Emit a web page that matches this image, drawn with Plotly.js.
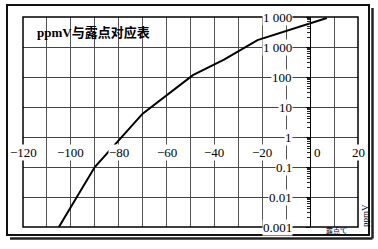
<!DOCTYPE html>
<html>
<head>
<meta charset="utf-8">
<script src="https://cdn.plot.ly/plotly-3.0.1.min.js"></script>
<style>html,body{margin:0;padding:0;background:#fff;}#chart{width:378px;height:249px;}</style>
</head>
<body>
<div id="chart"></div>
<script>
// Data
const dewPoint = [-105, -90, -70, -49, -36, -22, 7];
const ppmV = [0.001, 0.1, 6, 115, 380, 1700, 9300];

const xTickVals = [-120, -100, -80, -60, -40, -20, 0, 20];
const xTickText = ['\u2212120', '\u2212100', '\u221280', '\u221260', '\u221240', '\u221220', '0', '20'];
const yTickVals = [0.001, 0.01, 0.1, 1, 10, 100, 1000, 10000];
const yTickText = ['0.001', '0.01', '0.1', '1', '10', '100', '1 000', '1 000'];

const titleText = 'ppmV与露点对应表';
const xUnitText = '露点℃';
const yUnitText = 'ppmV';

// layout geometry (pixels)
const W = 378, H = 249;
const M = {l: 23, r: 20, t: 17, b: 22};
const L = M.l, R = W - M.r, T = M.t, B = H - M.b;
const px = x => (x - L) / (R - L);
const py = y => (B - y) / (B - T);

const serif = 'Liberation Serif, "Noto Sans CJK SC", serif';

const annotations = [];
xTickVals.forEach((v, i) => {
  annotations.push({
    x: v, y: -0.5, xref: 'x', yref: 'y', text: xTickText[i], showarrow: false,
    xanchor: 'center', yanchor: 'middle', xshift: v === 0 ? 7 : 0,
    font: {family: serif, size: 13, color: '#000'}, bgcolor: '#fff', borderpad: 0
  });
});
yTickVals.forEach((v, i) => {
  annotations.push({
    x: -7, y: Math.log10(v), xref: 'x', yref: 'y', text: yTickText[i], showarrow: false,
    xanchor: 'right', yanchor: 'middle',
    font: {family: serif, size: 13, color: '#000'}, bgcolor: '#fff', borderpad: 0
  });
});
annotations.push({
  x: px(35), y: py(33), xref: 'paper', yref: 'paper', text: '<b>' + titleText + '</b>', showarrow: false,
  xanchor: 'left', yanchor: 'middle', font: {family: serif, size: 13, color: '#000'}
});
annotations.push({
  x: px(336), y: py(231.5), xref: 'paper', yref: 'paper', text: xUnitText, showarrow: false,
  xanchor: 'center', yanchor: 'middle', font: {family: serif, size: 7, color: '#000'}
});
annotations.push({
  x: px(365), y: py(216), xref: 'paper', yref: 'paper', text: yUnitText, showarrow: false,
  textangle: -90, xanchor: 'center', yanchor: 'middle', font: {family: serif, size: 9, color: '#000'}
});

const shapes = [
  {type: 'rect', xref: 'paper', yref: 'paper', x0: px(7), x1: px(369), y0: py(5), y1: py(235),
   line: {color: '#111', width: 2}},
  {type: 'line', xref: 'paper', yref: 'paper', x0: px(372.5), x1: px(372.5), y0: py(8), y1: py(238.5),
   line: {color: '#222', width: 2.5}},
  {type: 'line', xref: 'paper', yref: 'paper', x0: px(10), x1: px(372.5), y0: py(238.5), y1: py(238.5),
   line: {color: '#222', width: 2.5}},
  {type: 'rect', xref: 'paper', yref: 'paper', x0: 0, x1: 1, y0: 0, y1: 1,
   line: {color: '#000', width: 1.5}}
];

const trace = {
  x: dewPoint, y: ppmV, type: 'scatter', mode: 'lines',
  line: {color: '#000', width: 2}, hoverinfo: 'none', cliponaxis: true
};

const layout = {
  width: W, height: H,
  margin: M,
  paper_bgcolor: '#fff', plot_bgcolor: '#fff',
  showlegend: false,
  xaxis: {
    range: [-120, 20], dtick: 10, tick0: 0, showgrid: true, gridcolor: '#555', gridwidth: 1,
    showticklabels: false, ticks: '', zeroline: false, showline: false, fixedrange: true
  },
  yaxis: {
    type: 'log', range: [-3, 4], dtick: 1, showgrid: true, gridcolor: '#444', gridwidth: 1,
    showticklabels: false, ticks: 'outside', ticklen: 4, tickcolor: '#000',
    anchor: 'free', position: 120 / 140, side: 'left',
    showline: true, linecolor: '#000', linewidth: 1.2, zeroline: false, fixedrange: true,
    minor: {ticks: 'outside', ticklen: 3, tickcolor: '#222', dtick: 'D1', showgrid: false}
  },
  annotations: annotations,
  shapes: shapes
};

Plotly.newPlot('chart', [trace], layout, {staticPlot: true, displayModeBar: false});
</script>
</body>
</html>
